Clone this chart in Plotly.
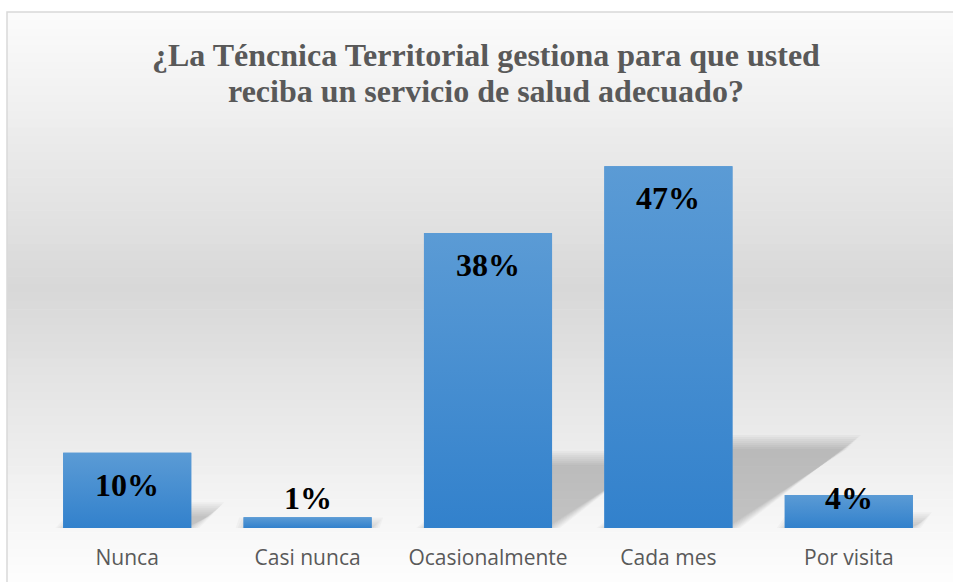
import plotly.graph_objects as go

# data
categories = ["Nunca", "Casi nunca", "Ocasionalmente", "Cada mes", "Por visita"]
percentages = [9.8, 1.4, 38.4, 47.1, 4.3]
title_lines = ["¿La Téncnica Territorial gestiona para que usted",
               "reciba un servicio de salud adecuado?"]

# page geometry (px)
W, H = 953, 582
M_L, M_R, M_T, M_B = 37, 14, 144, 54
PLOT_W = W - M_L - M_R
PLOT_H = H - M_T - M_B
Y_MAX = 50
BAR_W = 0.71
PX_X = PLOT_W / len(categories)   # px per category unit
PX_Y = PLOT_H / Y_MAX             # px per percent unit

idx = list(range(len(categories)))

fig = go.Figure()


def px_to_paper_x(px):
    return (px - M_L) / PLOT_W


def px_to_paper_y(py):
    return (H - M_B - py) / PLOT_H


shapes = []

# background: white -> gray -> white vertical gradient, in strips
top_px, bot_px = 12, 590
n_strips = 70
for s in range(n_strips):
    y0 = top_px + (bot_px - top_px) * s / n_strips
    y1 = top_px + (bot_px - top_px) * (s + 1) / n_strips + 0.6
    t = (s + 0.5) / n_strips
    d = 1 - abs(t - 0.48) / 0.52
    d = max(0.0, min(1.0, d))
    g = int(round(255 - (255 - 216) * d))
    shapes.append(dict(
        type="rect", xref="paper", yref="paper", layer="below",
        x0=px_to_paper_x(7), x1=px_to_paper_x(970),
        y0=px_to_paper_y(y1), y1=px_to_paper_y(y0),
        fillcolor=f"rgb({g},{g},{g})", line=dict(width=0),
    ))

# chart border (right/bottom edges fall outside the page)
shapes.append(dict(
    type="rect", xref="paper", yref="paper", layer="below",
    x0=px_to_paper_x(7), x1=px_to_paper_x(975),
    y0=px_to_paper_y(600), y1=px_to_paper_y(12),
    fillcolor="rgba(0,0,0,0)", line=dict(color="#d9d9d9", width=1.5),
))


# perspective shadows behind the bars (soft, built from stacked layers)
def shadow_path(i, v, grow):
    h_px = v * PX_Y * 0.235
    dx_px = h_px * 1.42
    gx = grow / PX_X
    gy = grow / PX_Y
    xl = i - BAR_W / 2 - gx
    xr = i + BAR_W / 2 + gx
    h = h_px / PX_Y + gy
    dx = dx_px / PX_X
    return (f"M {xl},0 L {xr},0 L {xr + dx},{h} L {xl + dx},{h} Z")


for i, v in zip(idx, percentages):
    for grow in [-6, -4, -2, 0, 2, 4, 6, 8]:
        shapes.append(dict(
            type="path", xref="x", yref="y", layer="below",
            path=shadow_path(i, v, grow),
            fillcolor="black", opacity=0.027, line=dict(width=0),
        ))

# bars
fig.add_trace(go.Bar(
    x=idx, y=percentages, width=BAR_W,
    marker=dict(color="#4a8fd2", line=dict(width=0)),
    hoverinfo="skip", showlegend=False,
))

# vertical gradient fill on top of each bar
for i, v in zip(idx, percentages):
    fig.add_trace(go.Scatter(
        x=[i - BAR_W / 2, i + BAR_W / 2, i + BAR_W / 2, i - BAR_W / 2, i - BAR_W / 2],
        y=[0, 0, v, v, 0],
        mode="lines", fill="toself",
        fillgradient=dict(type="vertical", colorscale=[[0, "#3281cc"], [1, "#5b9bd5"]]),
        line=dict(width=0), hoverinfo="skip", showlegend=False,
    ))

# data labels: inside end, clamped so they never sink below the axis
annotations = []
for i, v in zip(idx, percentages):
    bar_px = v * PX_Y
    drop = min(32, bar_px - 30)
    annotations.append(dict(
        x=i, y=v, xref="x", yref="y", yanchor="middle",
        yshift=-drop, showarrow=False,
        text=f"{v:.0f}%",
        font=dict(family="Liberation Serif", size=32, color="black", weight="bold"),
    ))

# title, one annotation per line to control the line spacing
for line, cy in zip(title_lines, [55, 91]):
    annotations.append(dict(
        x=px_to_paper_x(486), y=px_to_paper_y(cy), xref="paper", yref="paper",
        xanchor="center", yanchor="middle", showarrow=False,
        text=line,
        font=dict(family="Liberation Serif", size=32, color="#595959", weight="bold"),
    ))

fig.update_layout(
    width=W, height=H,
    margin=dict(l=M_L, r=M_R, t=M_T, b=M_B, pad=0),
    paper_bgcolor="white",
    plot_bgcolor="rgba(0,0,0,0)",
    showlegend=False,
    shapes=shapes,
    annotations=annotations,
    xaxis=dict(
        range=[-0.5, len(categories) - 0.5],
        tickvals=idx, ticktext=categories,
        ticks="", showgrid=False, zeroline=False, showline=False,
        tickfont=dict(family="Open Sans", size=21, color="#595959"),
        ticklabelstandoff=15,
        fixedrange=True,
    ),
    yaxis=dict(
        range=[0, Y_MAX], visible=False, fixedrange=True,
    ),
)

fig.write_html("out.html", config={"displayModeBar": False},
               post_script="document.body.style.margin='0';")
